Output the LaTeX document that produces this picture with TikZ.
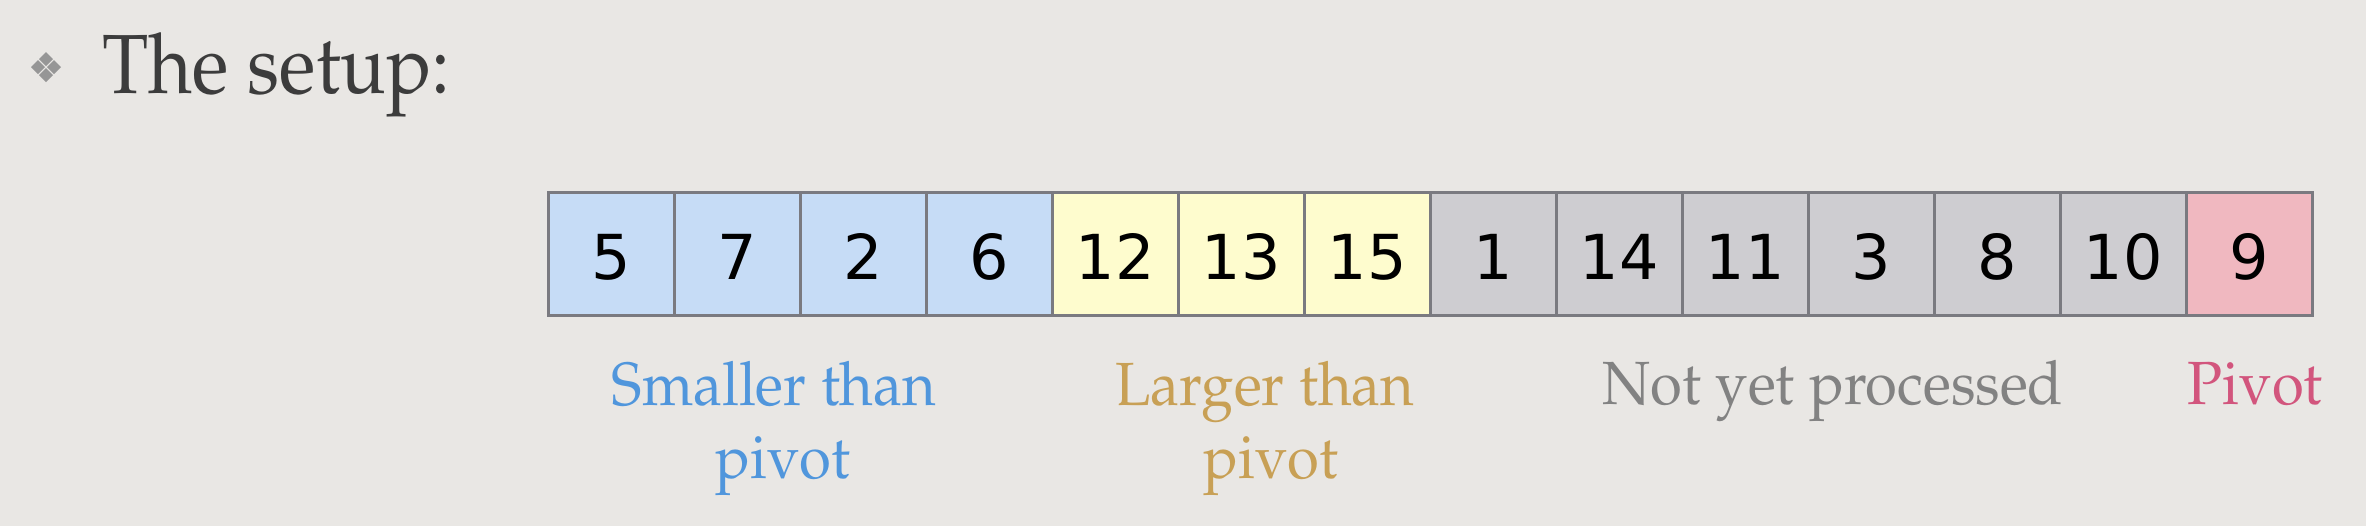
\documentclass[tikz,border=0pt]{standalone}
\usepackage[T1]{fontenc}
\usepackage{fontspec}
\usepackage{graphicx}
\newfontfamily\digitfont{DejaVu Sans}
\newcommand\palfont{\fontencoding{T1}\fontfamily{ppl}\selectfont}
\newcommand\sqz[2]{\scalebox{#1}[1]{#2}}
\definecolor{bgcol}{RGB}{233,231,228}
\definecolor{blu}{RGB}{198,220,246}
\definecolor{yel}{RGB}{254,252,206}
\definecolor{gry}{RGB}{206,205,209}
\definecolor{pnk}{RGB}{240,184,192}
\definecolor{cellborder}{RGB}{122,122,128}
\definecolor{labblue}{RGB}{80,150,220}
\definecolor{labgold}{RGB}{200,160,85}
\definecolor{labgray}{RGB}{130,130,130}
\definecolor{labpink}{RGB}{210,85,125}
\definecolor{titlecol}{RGB}{60,60,60}
\definecolor{bulletcol}{RGB}{150,150,150}
\begin{document}
\begin{tikzpicture}[x=0.5pt,y=-0.5pt,
  cell/.style={draw=cellborder, line width=1.5pt, minimum width=63pt, minimum height=61.5pt,
    inner sep=0pt, text=black, text height=25.6pt, text depth=0pt,
    font=\digitfont\fontsize{31}{36}\selectfont},
  lab/.style={anchor=base, inner sep=0pt, font=\palfont\fontsize{30.5}{36}\selectfont},
  ttl/.style={anchor=base west, inner sep=0pt, text=titlecol, font=\palfont\fontsize{42}{50}\selectfont}]
\useasboundingbox (0,0) rectangle (2366,526);
\fill[bgcol] (0,0) rectangle (2366,526);
% bullet
\foreach \dx/\dy in {-8/0,8/0,0/-8,0/8}
  \fill[bulletcol] ({46+\dx-7},{67+\dy}) -- ({46+\dx},{67+\dy-7}) -- ({46+\dx+7},{67+\dy}) -- ({46+\dx},{67+\dy+7}) -- cycle;
\node[ttl] (title) at (102,93) {\sqz{0.9}{The setup:}};
% cells
\foreach \v/\c [count=\i] in {5/blu,7/blu,2/blu,6/blu,12/yel,13/yel,15/yel,1/gry,14/gry,11/gry,3/gry,8/gry,10/gry,9/pnk}
  \node[cell, fill=\c] (b\i) at ({611+126*(\i-1)},253.5) {\v};
% labels
\node[lab, text=labblue] (small1) at (774,405) {\sqz{0.95}{Smaller than}};
\node[lab, text=labblue] (small2) at (783,478) {\sqz{0.95}{pivot}};
\node[lab, text=labgold] (large1) at (1265,405) {\sqz{0.95}{Larger than}};
\node[lab, text=labgold] (large2) at (1271,478) {\sqz{0.95}{pivot}};
\node[lab, text=labgray] (notyet) at (1833,404) {\sqz{0.95}{Not yet processed}};
\node[lab, text=labpink] (pivotlab) at (2255,404) {\sqz{0.95}{Pivot}};
\end{tikzpicture}
\end{document}
